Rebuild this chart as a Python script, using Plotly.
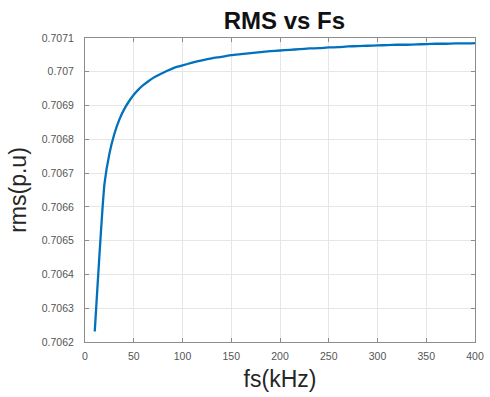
import plotly.graph_objects as go

fs_khz = [10, 20, 25, 30, 35, 40, 45, 50, 55, 60, 65, 70, 75, 80, 85, 90, 95, 100,
          110, 120, 130, 140, 150, 160, 170, 180, 190, 200,
          210, 220, 230, 240, 250, 260, 270, 280, 290, 300,
          310, 320, 330, 340, 350, 360, 370, 380, 390, 400]
rms_pu = [0.706231, 0.706669, 0.706757, 0.706815, 0.706857, 0.706888, 0.706912, 0.706932, 0.706948,
          0.706961, 0.706972, 0.706982, 0.706990, 0.706997, 0.707004, 0.707010, 0.707015, 0.707019,
          0.707027, 0.707034, 0.707040, 0.707044, 0.707049, 0.707052, 0.707055, 0.707058, 0.707061, 0.707063,
          0.707065, 0.707067, 0.707069, 0.707070, 0.707072, 0.707073, 0.707075, 0.707076, 0.707077, 0.707078,
          0.707079, 0.707080, 0.707080, 0.707081, 0.707082, 0.707083, 0.707083, 0.707084, 0.707084, 0.707085]

x_ticks = [0, 50, 100, 150, 200, 250, 300, 350, 400]
y_ticks = [0.7062, 0.7063, 0.7064, 0.7065, 0.7066, 0.7067, 0.7068, 0.7069, 0.707, 0.7071]
y_tick_text = ["0.7062", "0.7063", "0.7064", "0.7065", "0.7066", "0.7067", "0.7068", "0.7069", "0.707", "0.7071"]

fig = go.Figure()
fig.add_trace(go.Scatter(x=fs_khz, y=rms_pu, mode="lines", line_shape="spline",
                         line=dict(color="#0072BD", width=2.3, smoothing=0.5), showlegend=False))

axis_common = dict(
    showline=True, linecolor="#8c8c8c", linewidth=1, mirror="ticks",
    ticks="inside", ticklen=4, tickcolor="#8c8c8c", tickwidth=1,
    showgrid=True, gridcolor="#e6e6e6", gridwidth=1, zeroline=False,
    ticklabeloverflow="allow",
    tickfont=dict(family="Liberation Sans, Arial, sans-serif", size=10.5, color="#555555"),
)

fig.update_layout(
    width=490, height=397,
    margin=dict(l=85, r=6, t=38, b=55),
    paper_bgcolor="white", plot_bgcolor="white",
    title=dict(text="<b>RMS vs Fs</b>", x=0.5805, xanchor="center",
               y=1 - 21 / 397, yanchor="middle", yref="container",
               font=dict(family="Liberation Sans, Arial, sans-serif", size=24, color="#111111")),
    xaxis=dict(range=[0, 400], tickvals=x_ticks,
               title=dict(text="fs(kHz)", standoff=10,
                          font=dict(family="Liberation Sans, Arial, sans-serif", size=23, color="#262626")),
               ticklabelstandoff=4,
               **axis_common),
    yaxis=dict(range=[0.7062, 0.7071], tickvals=y_ticks, ticktext=y_tick_text,
               title=dict(text="rms(p.u)", standoff=8,
                          font=dict(family="Liberation Sans, Arial, sans-serif", size=23, color="#262626")),
               ticklabelstandoff=8,
               **axis_common),
)

fig.write_html("out.html", config={"displayModeBar": False},
               post_script="document.body.style.margin='0';document.body.style.overflow='hidden';")
